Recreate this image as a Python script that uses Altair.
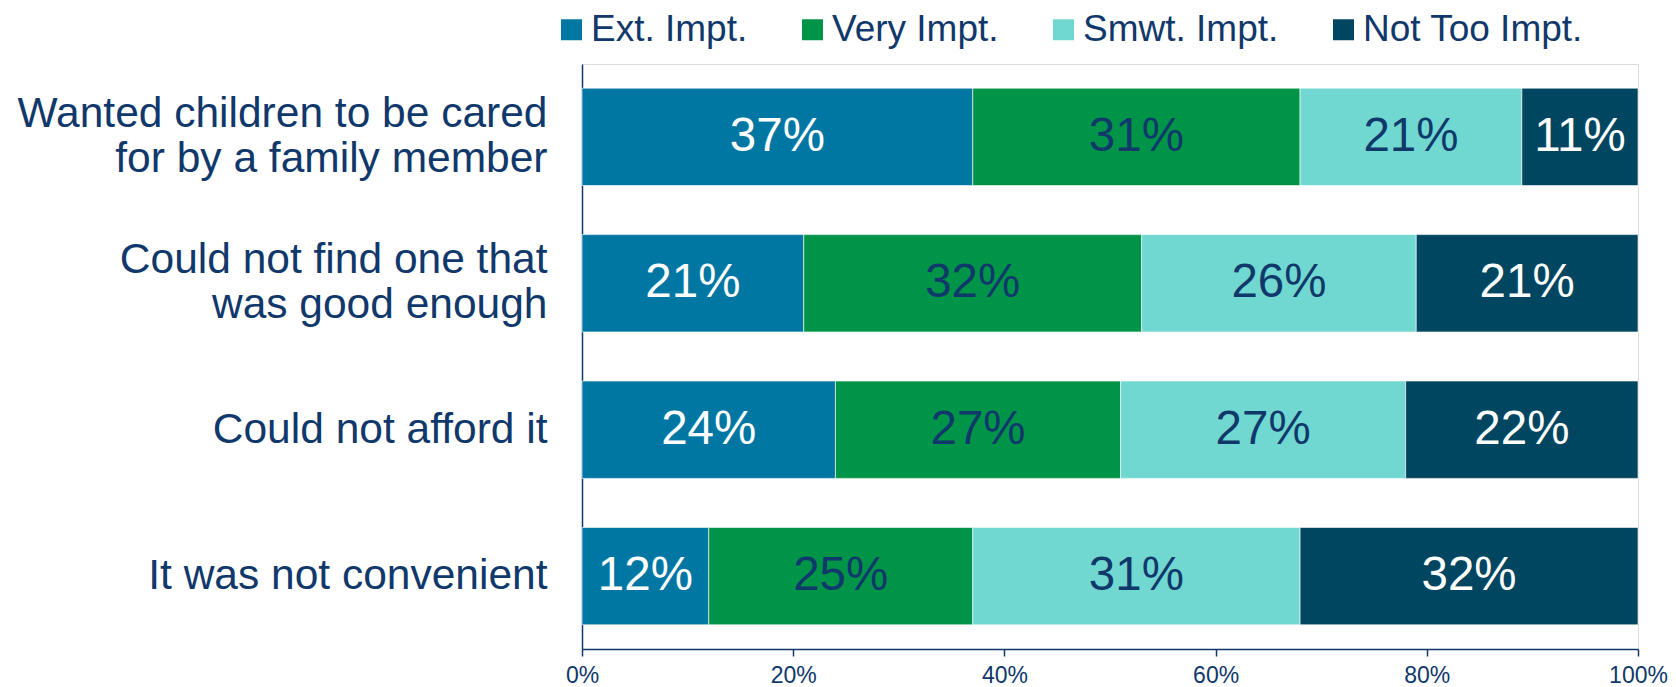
import altair as alt
import pandas as pd

categories = [
    "Wanted children to be cared|for by a family member",
    "Could not find one that|was good enough",
    "Could not afford it",
    "It was not convenient",
]
series = ["Ext. Impt.", "Very Impt.", "Smwt. Impt.", "Not Too Impt."]
values = {
    "Ext. Impt.": [37, 21, 24, 12],
    "Very Impt.": [31, 32, 27, 25],
    "Smwt. Impt.": [21, 26, 27, 31],
    "Not Too Impt.": [11, 21, 22, 32],
}
colors = ["#0077A3", "#009448", "#70D8D0", "#004660"]
text_colors = ["#FFFFFF", "#10386B", "#10386B", "#FFFFFF"]
tick_values = [0, 20, 40, 60, 80, 100]

rows = []
for si, s in enumerate(series):
    for ci, c in enumerate(categories):
        rows.append({"cat": c, "series": s, "order": si, "value": values[s][ci],
                     "tcolor": text_colors[si]})
df = pd.DataFrame(rows)

NAVY = "#10386B"
FONT = "Liberation Sans"

base = alt.Chart(df).transform_stack(
    stack="value", as_=["x0", "x1"], groupby=["cat"], sort=[alt.SortField("order")]
).transform_calculate(mid="(datum.x0 + datum.x1) / 2", lbl="datum.value + '%'")

y_enc = alt.Y("cat:N", sort=categories, title=None,
              scale=alt.Scale(paddingInner=0.335, paddingOuter=0.165),
              axis=alt.Axis(labelExpr="split(datum.label, '|')", labelFontSize=42.5,
                            labelColor=NAVY, labelFont=FONT, labelPadding=35,
                            labelLineHeight=45, ticks=False, domainColor=NAVY,
                            domainWidth=1.5, labelLimit=800,
                            labelOffset={"condition": {"test": "indexof(datum.value, '|') >= 0",
                                                       "value": -23},
                                         "value": 0}))

bars = base.mark_bar(stroke="#FFFFFF", strokeWidth=0.6).encode(
    x=alt.X("x0:Q", scale=alt.Scale(domain=[0, 100], nice=False), title=None,
            axis=alt.Axis(values=tick_values, labelExpr="datum.value + '%'",
                          labelFontSize=23, labelColor=NAVY, labelFont=FONT,
                          tickColor=NAVY, domainColor=NAVY, domainWidth=1.5,
                          tickSize=7, tickWidth=1.5, grid=False, labelPadding=8,
                          labelFlush=False)),
    x2="x1:Q",
    y=y_enc,
    color=alt.Color("series:N", sort=series,
                    scale=alt.Scale(domain=series, range=colors),
                    legend=alt.Legend(title=None, orient="none", direction="horizontal",
                                      legendX=-29, legendY=-53, symbolType="square",
                                      symbolSize=441, symbolStrokeWidth=0,
                                      labelFontSize=37, labelColor=NAVY, labelFont=FONT,
                                      columnPadding=46, labelOffset=1, padding=0,
                                      labelLimit=400, symbolOpacity=1)),
)

texts = base.mark_text(fontSize=47.5, font=FONT, baseline="middle", align="center").encode(
    x="mid:Q",
    y=alt.Y("cat:N", sort=categories),
    text="lbl:N",
    color=alt.Color("tcolor:N", scale=None),
)

chart = alt.layer(bars, texts).properties(
    width=1056, height=585,
    autosize=alt.AutoSizeParams(type="none"),
    padding={"left": 574, "top": 56, "right": 30, "bottom": 40},
).configure_view(stroke=None).configure(background="#FFFFFF")

chart.save("out.html", embed_options={"renderer": "svg", "actions": False})
